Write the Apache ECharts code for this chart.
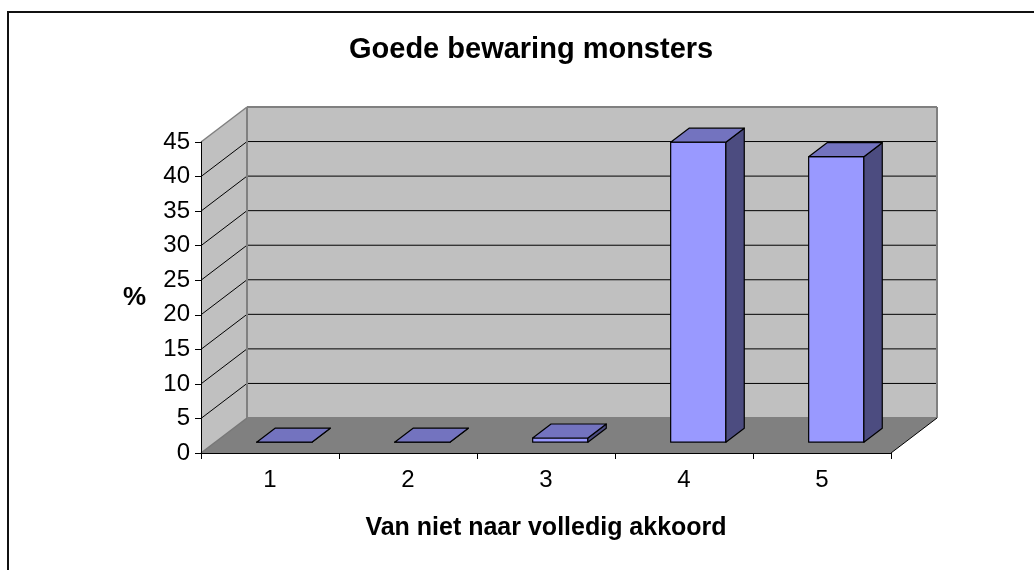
<!DOCTYPE html>
<html>
<head>
<meta charset="utf-8">
<script src="https://cdn.jsdelivr.net/npm/echarts@6/dist/echarts.min.js"></script>
<style>
  html, body { margin: 0; padding: 0; background: #fff; }
  #chart { width: 1034px; height: 570px; }
</style>
</head>
<body>
<div id="chart"></div>
<script>
// data
var categories = ['1', '2', '3', '4', '5'];
var percentages = [0, 0, 0.6, 43.4, 41.3];
var yTicks = [0, 5, 10, 15, 20, 25, 30, 35, 40, 45];

var FONT = '"Liberation Sans", Arial, sans-serif';
// depth of the fake 3d box (pixels)
var DX = 46, DY = -35;

var myChart = echarts.init(document.getElementById('chart'));

function renderWalls(params, api) {
    var cs = params.coordSys;
    var left = cs.x, top = cs.y, right = cs.x + cs.width, bottom = cs.y + cs.height;
    var children = [];
    // side wall
    children.push({
        type: 'polygon',
        shape: { points: [[left, top], [left + DX, top + DY], [left + DX, bottom + DY], [left, bottom]] },
        style: { fill: '#c0c0c0' }
    });
    // back wall
    children.push({
        type: 'polygon',
        shape: { points: [[left + DX, top + DY], [right + DX, top + DY], [right + DX, bottom + DY], [left + DX, bottom + DY]] },
        style: { fill: '#c0c0c0' }
    });
    // floor
    children.push({
        type: 'polygon',
        shape: { points: [[left, bottom], [left + DX, bottom + DY], [right + DX, bottom + DY], [right, bottom]] },
        style: { fill: '#808080' }
    });
    // gridlines on back + side wall
    yTicks.forEach(function (v) {
        var y = api.coord([0, v])[1];
        var edge = (v === yTicks[0] || v === yTicks[yTicks.length - 1]);
        var col = edge ? '#808080' : '#000';
        children.push({
            type: 'line',
            shape: { x1: left, y1: y, x2: left + DX, y2: y + DY },
            style: { stroke: edge ? (v === 0 ? '#777' : '#808080') : '#000', lineWidth: edge ? 1.5 : 1 }
        });
        children.push({
            type: 'line',
            shape: { x1: left + DX, y1: y + DY, x2: right + DX, y2: y + DY },
            style: { stroke: col, lineWidth: edge ? 2 : 1 }
        });
    });
    // wall vertical edges
    children.push({
        type: 'line',
        shape: { x1: left + DX, y1: top + DY, x2: left + DX, y2: bottom + DY },
        style: { stroke: '#808080', lineWidth: 2 }
    });
    children.push({
        type: 'line',
        shape: { x1: right + DX, y1: top + DY, x2: right + DX, y2: bottom + DY },
        style: { stroke: '#808080', lineWidth: 2 }
    });
    // floor right edge
    children.push({
        type: 'line',
        shape: { x1: right, y1: bottom, x2: right + DX, y2: bottom + DY },
        style: { stroke: '#000', lineWidth: 1 }
    });
    return { type: 'group', children: children };
}

function renderBar(params, api) {
    var idx = api.value(0);
    var base = api.coord([idx, 0]);
    var topPt = api.coord([idx, api.value(1)]);
    var w = api.size([1, 0])[0] * 0.4;
    var f0 = 0.31, fd = 0.4;
    var fx = base[0] + DX * f0 - w / 2;
    var by = base[1] + DY * f0;
    var ty = topPt[1] + DY * f0;
    var ddx = DX * fd, ddy = DY * fd;
    var st = { stroke: '#000', lineWidth: 1.2, lineJoin: 'round' };
    return {
        type: 'group',
        children: [
            {
                type: 'polygon',
                shape: { points: [[fx, by], [fx + w, by], [fx + w, ty], [fx, ty]] },
                style: Object.assign({ fill: '#9999ff' }, st)
            },
            {
                type: 'polygon',
                shape: { points: [[fx + w, ty], [fx + w + ddx, ty + ddy], [fx + w + ddx, by + ddy], [fx + w, by]] },
                style: Object.assign({ fill: '#4c4c80' }, st)
            },
            {
                type: 'polygon',
                shape: { points: [[fx, ty], [fx + w, ty], [fx + w + ddx, ty + ddy], [fx + ddx, ty + ddy]] },
                style: Object.assign({ fill: '#7373bf' }, st)
            }
        ]
    };
}

var option = {
    backgroundColor: '#fff',
    animation: false,
    title: {
        text: 'Goede bewaring monsters',
        left: 344,
        top: 30,
        textStyle: { fontFamily: FONT, fontSize: 29, fontWeight: 'bold', color: '#000' }
    },
    graphic: [{
        type: 'rect',
        shape: { x: 8, y: 12, width: 1060, height: 600 },
        style: { fill: null, stroke: '#111', lineWidth: 2 },
        silent: true
    }],
    grid: { left: 201, right: 143, top: 142, bottom: 117 },
    xAxis: {
        type: 'category',
        data: categories,
        name: 'Van niet naar volledig akkoord',
        nameLocation: 'middle',
        nameGap: 63,
        nameTextStyle: { fontFamily: FONT, fontSize: 25, fontWeight: 'bold', color: '#000' },
        axisLine: { show: true, lineStyle: { color: '#000', width: 1 } },
        axisTick: { show: true, length: 6, lineStyle: { color: '#000' } },
        axisLabel: { fontFamily: FONT, fontSize: 24, color: '#000', margin: 15 },
        splitLine: { show: false },
        z: 10
    },
    yAxis: {
        type: 'value',
        min: 0,
        max: 45,
        interval: 5,
        name: '%',
        nameLocation: 'middle',
        nameRotate: 0,
        nameGap: 55,
        nameTextStyle: { fontFamily: FONT, fontSize: 26, fontWeight: 'bold', color: '#000', padding: [6, 0, 0, 0] },
        axisLine: { show: true, lineStyle: { color: '#000', width: 1 } },
        axisTick: { show: true, length: 6, lineStyle: { color: '#000' } },
        axisLabel: { fontFamily: FONT, fontSize: 24, color: '#000', margin: 11 },
        splitLine: { show: false },
        z: 10
    },
    series: [
        {
            type: 'custom',
            renderItem: renderWalls,
            data: [[0, 0]],
            silent: true,
            z: 1
        },
        {
            type: 'custom',
            renderItem: renderBar,
            data: categories.map(function (c, i) { return [i, percentages[i]]; }),
            z: 2
        }
    ]
};

myChart.setOption(option);
</script>
</body>
</html>
